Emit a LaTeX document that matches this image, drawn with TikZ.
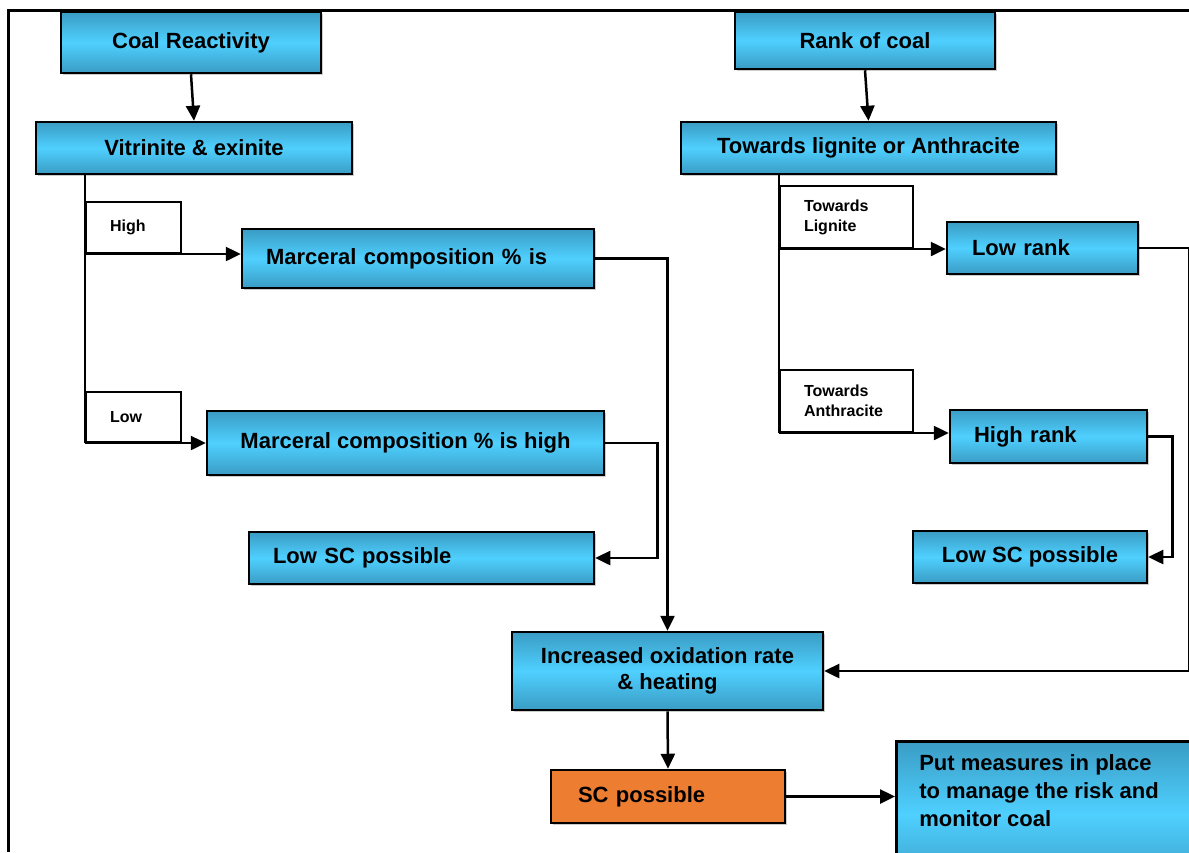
\documentclass[tikz,border=0pt]{standalone}
\usepackage{fontspec}
\setmainfont{Liberation Sans}
\usetikzlibrary{arrows.meta,shadows}
\definecolor{boxedge}{HTML}{3A9CC4}
\definecolor{boxmid}{HTML}{4FD0FF}
\definecolor{scorange}{HTML}{ED7D31}
\begin{document}
\begin{tikzpicture}[x=1pt,y=-1pt,
  box/.style={draw=black,line width=2.5pt,top color=boxedge,bottom color=boxedge,middle color=boxmid,
    drop shadow={shadow xshift=2pt,shadow yshift=-2pt,opacity=0.4},
    font=\fontsize{22}{26}\selectfont\bfseries,inner sep=0pt,align=center},
  obox/.style={box,top color=scorange,bottom color=scorange,middle color=scorange},
  lpad/.style={align=left,inner xsep=#1},
  tag/.style={draw=black,line width=2pt,fill=white,font=\fontsize{16}{20}\selectfont\bfseries,
    align=left,inner sep=0pt},
  arr/.style={line width=2.5pt,-{Triangle[length=15pt,width=14pt]}},
  link/.style={line width=2.5pt}]
\useasboundingbox (0,0) rectangle (1189,852);
\draw[line width=3pt] (8,852) -- (8,10) -- (1189,10);

% left branch
\node (cr) at (191,42.5) [box,minimum width=260,minimum height=61] {Coal Reactivity};
\node (vit) at (194,148) [box,minimum width=316,minimum height=52] {Vitrinite \& exinite};
\node (hi) at (133.5,227.5) [tag,inner xsep=24pt,text width=47,minimum height=51] {High};
\node (lo) at (133.5,417) [tag,inner xsep=24pt,text width=47,minimum height=50] {Low};
\node (mc1) at (418,258.5) [box,lpad=24pt,text width=304,minimum height=59] {Marceral composition \% is};
\node (mc2) at (405.5,443) [box,minimum width=397,minimum height=64] {Marceral composition \% is high};
\node (lsc1) at (421.5,558) [box,lpad=24pt,text width=297,minimum height=52] {Low SC possible};

% right branch
\node (rk) at (865,40.5) [box,minimum width=260,minimum height=57] {Rank of coal};
\node (tla) at (868.5,148) [box,minimum width=375,minimum height=52] {Towards lignite or Anthracite};
\node (tl) at (846.5,217) [tag,inner xsep=24pt,text width=85,minimum height=62] {Towards\\Lignite};
\node (ta) at (846.5,401) [tag,inner xsep=24pt,text width=85,minimum height=62] {Towards\\Anthracite};
\node (lr) at (1042.5,248) [box,lpad=25pt,text width=141,minimum height=52] {Low rank};
\node (hr) at (1048.5,436.5) [box,lpad=24pt,text width=149,minimum height=53] {High rank};
\node (lsc2) at (1030,557) [box,minimum width=234,minimum height=52] {Low SC possible};

% bottom
\node (inc) at (667.5,671) [box,minimum width=311,minimum height=78] {Increased oxidation rate\\\& heating};
\node (sc) at (668,796.5) [obox,lpad=27pt,text width=180,minimum height=53] {SC possible};
\node (pm) at (895,740) [box,anchor=north west,inner xsep=23pt,inner ysep=13pt]
  {\parbox[t][120pt][t]{280pt}{\fontsize{22}{28}\selectfont\bfseries Put measures in place\\to manage the risk and\\monitor coal}};

% connectors
\draw[arr] (cr.south) -- (vit.north);
\draw[link] (vit.south -| hi.west) -- (lo.south west);
\draw[arr] (hi.south west) -- (hi.south west -| mc1.west);
\draw[arr] (lo.south west) -- (lo.south west -| mc2.west);
\draw[arr] (mc1.east) -| (inc.north);
\draw[arr] (mc2.east) -- ++(52,0) |- (lsc1.east);
\draw[arr] (rk.south) -- (tla.north);
\draw[link] (tla.south -| tl.west) -- (ta.south west);
\draw[arr] (tl.south west) -- (tl.south west -| lr.west);
\draw[arr] (ta.south west) -- (ta.south west -| hr.west);
\draw[arr] (lr.east) -- ++(50,0) |- (inc.east);
\draw[arr] (hr.east) -- ++(24,0) |- (lsc2.east);
\draw[arr] (inc.south) -- (sc.north);
\draw[arr] (sc.east) -- (sc.east -| pm.west);
\end{tikzpicture}
\end{document}
